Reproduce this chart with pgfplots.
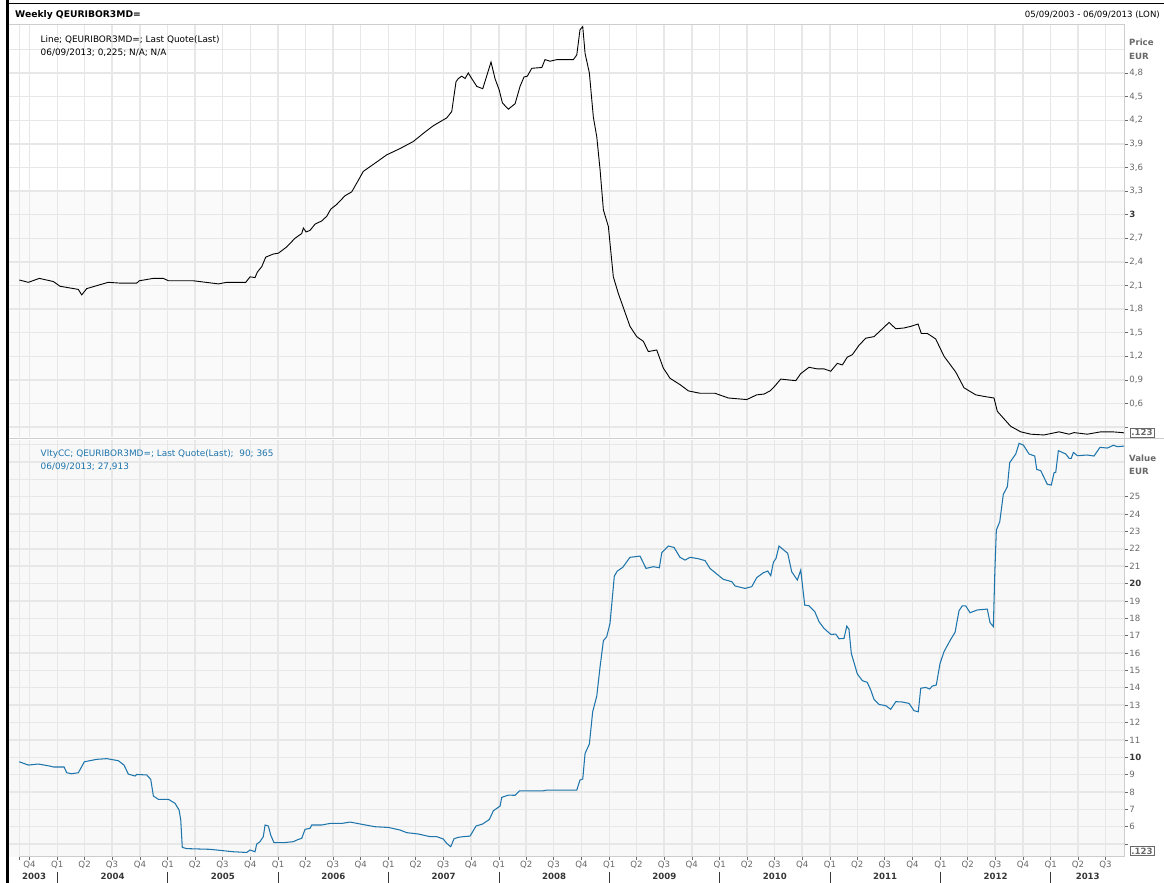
\documentclass[border=0pt]{standalone}
\usepackage{pgfplots}
\pgfplotsset{compat=1.18}
\usepackage{fontspec}
\setmainfont{DejaVu Sans}
\definecolor{vblue}{RGB}{30,117,172}
\definecolor{gridc}{RGB}{231,231,231}
\definecolor{bgA}{RGB}{250,250,250}
\definecolor{bgB}{RGB}{248,248,248}
\definecolor{tickc}{RGB}{105,105,105}
\definecolor{tickb}{RGB}{55,55,55}
\definecolor{axc}{RGB}{205,205,205}
\newcommand{\fs}{\fontsize{8.6}{10}\selectfont}
\newcommand{\fl}{\fontsize{8.9}{10}\selectfont}
\newcommand{\ft}{\fontsize{9.2}{10}\selectfont}

\pgfplotstableread{
t v
2003.655 2.17
2003.737 2.14
2003.837 2.19
2003.964 2.15
2004.024 2.09
2004.190 2.05
2004.221 1.98
2004.266 2.06
2004.387 2.11
2004.462 2.14
2004.568 2.13
2004.719 2.13
2004.743 2.16
2004.870 2.19
2004.960 2.19
2005.006 2.16
2005.232 2.16
2005.459 2.12
2005.535 2.14
2005.707 2.14
2005.746 2.21
2005.791 2.20
2005.812 2.27
2005.852 2.34
2005.888 2.46
2005.957 2.50
2006.002 2.51
2006.078 2.59
2006.153 2.70
2006.214 2.76
2006.229 2.83
2006.253 2.78
2006.289 2.80
2006.335 2.88
2006.395 2.92
2006.441 2.98
2006.477 3.07
2006.531 3.13
2006.606 3.24
2006.667 3.29
2006.712 3.40
2006.772 3.55
2006.833 3.61
2006.894 3.67
2006.984 3.76
2007.105 3.84
2007.225 3.93
2007.331 4.05
2007.406 4.13
2007.528 4.23
2007.573 4.31
2007.612 4.69
2007.633 4.73
2007.664 4.76
2007.694 4.73
2007.723 4.80
2007.754 4.73
2007.800 4.63
2007.854 4.60
2007.929 4.94
2007.965 4.73
2008.004 4.58
2008.032 4.42
2008.086 4.34
2008.147 4.41
2008.192 4.63
2008.228 4.75
2008.258 4.76
2008.298 4.86
2008.389 4.87
2008.418 4.97
2008.464 4.95
2008.524 4.97
2008.675 4.97
2008.706 5.03
2008.735 5.35
2008.760 5.39
2008.781 5.05
2008.820 4.80
2008.856 4.24
2008.887 3.99
2008.917 3.57
2008.947 3.06
2008.992 2.85
2009.037 2.21
2009.082 2.00
2009.188 1.58
2009.249 1.45
2009.309 1.39
2009.354 1.26
2009.430 1.28
2009.490 1.05
2009.551 0.92
2009.641 0.84
2009.717 0.76
2009.823 0.73
2009.958 0.73
2010.079 0.67
2010.246 0.65
2010.336 0.71
2010.402 0.72
2010.457 0.76
2010.493 0.81
2010.554 0.91
2010.690 0.89
2010.735 0.98
2010.810 1.06
2010.885 1.04
2010.946 1.04
2011.007 1.01
2011.066 1.11
2011.112 1.09
2011.157 1.19
2011.202 1.22
2011.263 1.34
2011.324 1.43
2011.399 1.45
2011.460 1.53
2011.535 1.63
2011.596 1.55
2011.671 1.56
2011.731 1.58
2011.798 1.61
2011.827 1.49
2011.882 1.49
2011.958 1.42
2012.033 1.20
2012.139 1.00
2012.214 0.80
2012.320 0.71
2012.396 0.69
2012.486 0.67
2012.516 0.50
2012.637 0.31
2012.728 0.24
2012.819 0.21
2012.939 0.20
2013.075 0.24
2013.166 0.21
2013.211 0.23
2013.331 0.21
2013.453 0.24
2013.558 0.24
2013.648 0.23
2013.668 0.225
}\euribor

\pgfplotstableread{
t v
2003.655 9.74
2003.737 9.55
2003.828 9.61
2003.934 9.49
2003.964 9.44
2004.061 9.44
2004.085 9.11
2004.130 9.05
2004.190 9.11
2004.245 9.74
2004.357 9.88
2004.448 9.92
2004.553 9.80
2004.604 9.55
2004.643 9.03
2004.704 8.92
2004.719 9.01
2004.810 8.98
2004.846 8.73
2004.870 7.77
2004.915 7.58
2005.006 7.58
2005.066 7.35
2005.103 6.96
2005.118 6.39
2005.132 4.81
2005.172 4.74
2005.383 4.70
2005.594 4.56
2005.716 4.52
2005.746 4.66
2005.791 4.56
2005.806 5.00
2005.836 5.14
2005.866 5.43
2005.882 6.10
2005.912 6.04
2005.933 5.52
2005.963 5.08
2006.047 5.08
2006.138 5.14
2006.183 5.27
2006.214 5.33
2006.244 5.85
2006.289 5.91
2006.305 6.10
2006.395 6.10
2006.471 6.19
2006.577 6.19
2006.652 6.27
2006.742 6.16
2006.878 6.00
2006.999 5.96
2007.105 5.81
2007.165 5.66
2007.271 5.58
2007.376 5.43
2007.437 5.43
2007.497 5.29
2007.528 5.04
2007.564 4.85
2007.594 5.31
2007.633 5.39
2007.678 5.43
2007.739 5.46
2007.793 6.04
2007.854 6.16
2007.914 6.42
2007.950 6.92
2008.011 7.19
2008.026 7.69
2008.086 7.82
2008.147 7.81
2008.186 8.06
2008.403 8.07
2008.434 8.11
2008.706 8.11
2008.735 8.69
2008.760 8.75
2008.781 10.22
2008.820 10.76
2008.850 12.62
2008.887 13.52
2008.917 15.21
2008.947 16.71
2008.977 16.94
2009.007 17.71
2009.046 20.43
2009.073 20.72
2009.122 20.93
2009.188 21.51
2009.279 21.58
2009.333 20.87
2009.400 20.97
2009.454 20.91
2009.476 21.78
2009.535 22.16
2009.587 22.08
2009.641 21.51
2009.687 21.35
2009.732 21.51
2009.807 21.43
2009.868 21.32
2009.913 20.87
2009.974 20.55
2010.034 20.24
2010.110 20.11
2010.140 19.86
2010.230 19.72
2010.291 19.82
2010.336 20.34
2010.396 20.62
2010.436 20.72
2010.463 20.45
2010.487 21.22
2010.511 21.45
2010.538 22.16
2010.617 21.74
2010.653 20.68
2010.704 20.20
2010.735 20.78
2010.771 18.76
2010.810 18.72
2010.862 18.38
2010.901 17.80
2010.946 17.42
2011.007 17.07
2011.052 17.09
2011.082 16.82
2011.127 16.84
2011.152 17.55
2011.172 17.36
2011.193 15.98
2011.248 14.79
2011.293 14.41
2011.338 14.31
2011.369 13.87
2011.399 13.33
2011.444 13.04
2011.505 12.97
2011.550 12.76
2011.596 13.20
2011.655 13.18
2011.716 13.10
2011.761 12.68
2011.800 12.62
2011.822 13.97
2011.867 14.02
2011.903 13.93
2011.927 14.10
2011.963 14.16
2011.997 15.40
2012.033 16.08
2012.094 16.79
2012.133 17.19
2012.169 18.44
2012.199 18.72
2012.230 18.71
2012.269 18.32
2012.335 18.48
2012.425 18.53
2012.450 17.75
2012.480 17.52
2012.493 20.59
2012.507 23.08
2012.538 23.56
2012.570 25.13
2012.607 25.58
2012.628 26.96
2012.683 27.46
2012.713 28.07
2012.752 27.97
2012.803 27.46
2012.855 27.34
2012.873 26.57
2012.909 26.50
2012.969 25.71
2013.005 25.67
2013.030 26.38
2013.045 26.40
2013.069 27.65
2013.136 27.46
2013.166 27.21
2013.186 27.21
2013.205 27.55
2013.241 27.36
2013.331 27.40
2013.392 27.34
2013.446 27.84
2013.513 27.80
2013.567 27.96
2013.603 27.88
2013.664 27.913
}\vlty

\pgfplotsset{
  panel/.style={
    scale only axis, width=1115.7pt, xmin=2003.562, xmax=2013.670,
    anchor=south west,
    axis line style={draw=none},
    grid=major, major grid style={gridc, line width=1.4pt},
    tick align=outside, ytick pos=right, yticklabel pos=right,
    major tick length=3.5pt,
    tick style={tickc, line width=0.6pt},
    tick label style={font=\fs, text=tickc},
    yticklabel style={anchor=west, inner sep=1pt},
    clip mode=individual,
    xtick={2003.655,2003.748,
      2004,2004.247,2004.496,2004.748,
      2005,2005.247,2005.496,2005.748,
      2006,2006.247,2006.496,2006.748,
      2007,2007.247,2007.496,2007.748,
      2008,2008.247,2008.496,2008.748,
      2009,2009.247,2009.496,2009.748,
      2010,2010.247,2010.496,2010.748,
      2011,2011.247,2011.496,2011.748,
      2012,2012.247,2012.496,2012.748,
      2013,2013.247,2013.496},
  }
}

\begin{document}
\begin{tikzpicture}
\fill[white] (0pt,0pt) rectangle (1164pt,883pt);
% panel backgrounds
\fill[white] (9pt,445.5pt) rectangle (1124.7pt,859pt);
\fill[bgA] (9pt,445.5pt) rectangle (1124.7pt,693pt);
\fill[bgB] (9pt,26.3pt) rectangle (1124.7pt,443pt);

% top panel
\begin{axis}[panel, at={(9pt,445.5pt)}, height=413.5pt,
  ymin=0.168, ymax=5.423,
  xticklabels={}, xtick style={draw=none},
  ytick={0.3,0.6,0.9,1.2,1.5,1.8,2.1,2.4,2.7,3.0,3.3,3.6,3.9,4.2,4.5,4.8},
  yticklabels={{},{0,6},{0,9},{1,2},{1,5},{1,8},{2,1},{2,4},{2,7},{\textcolor{tickb}{\bfseries 3}},{3,3},{3,6},{3,9},{4,2},{4,5},{4,8}},
  extra y ticks={5.1}, extra y tick labels={}, extra y tick style={tick style={draw=none}},
]
\addplot[black, line width=0.9pt] table[x=t,y=v] {\euribor};
\end{axis}

% bottom panel
\begin{axis}[panel, at={(9pt,26.3pt)}, height=416.7pt,
  ymin=4.275, ymax=28.264,
  xtick pos=bottom,
  xticklabels={{},Q4,Q1,Q2,Q3,Q4,Q1,Q2,Q3,Q4,Q1,Q2,Q3,Q4,Q1,Q2,Q3,Q4,Q1,Q2,Q3,Q4,Q1,Q2,Q3,Q4,Q1,Q2,Q3,Q4,Q1,Q2,Q3,Q4,Q1,Q2,Q3,Q4,Q1,Q2,Q3},
  xticklabel style={anchor=north, inner sep=0.5pt},
  extra x ticks={2003.79,2004.5,2005.5,2006.5,2007.5,2008.5,2009.5,2010.5,2011.5,2012.5,2013.335},
  extra x tick labels={2003,2004,2005,2006,2007,2008,2009,2010,2011,2012,2013},
  extra x tick style={grid=none, tick style={draw=none},
    xticklabel style={yshift=-12pt, font=\fs\bfseries, text=tickb}},
  ytick={5,6,...,25},
  yticklabels={{},6,7,8,9,{\textcolor{tickb}{\bfseries 10}},11,12,13,14,15,16,17,18,19,{\textcolor{tickb}{\bfseries 20}},21,22,23,24,25},
  extra y ticks={26,27,28}, extra y tick labels={}, extra y tick style={tick style={draw=none}},
]
\addplot[vblue, line width=1.05pt] table[x=t,y=v] {\vlty};
\pgfplotsinvokeforeach{2004,2005,2006,2007,2008,2009,2010,2011,2012,2013}{
  \draw[tickb, line width=0.7pt] ([yshift=-15pt]axis cs:#1,4.275) -- ([yshift=-26.3pt]axis cs:#1,4.275);
}
\end{axis}

% borders
\draw[axc, line width=0.8pt] (19.5pt,26.3pt) -- (1124.7pt,26.3pt);
\draw[axc, line width=0.8pt] (1124.7pt,26.3pt) -- (1124.7pt,859pt);
\draw[axc, line width=0.8pt] (9pt,859pt) -- (1124.7pt,859pt);
\draw[axc, line width=0.8pt] (9pt,444.3pt) -- (1164pt,444.3pt);
\draw[black, line width=2.5pt] (7.5pt,0pt) -- (7.5pt,883pt);
\draw[black, line width=1.5pt] (7.5pt,879.5pt) -- (1164pt,879.5pt);

% header
\node[anchor=west, font=\ft\bfseries, inner sep=0] at (15pt,868pt) {Weekly QEURIBOR3MD=};
\node[anchor=east, font=\fs, inner sep=0] at (1160pt,868pt) {05/09/2003 - 06/09/2013 (LON)};

% series labels
\node[anchor=west, font=\fl, inner sep=0] at (40.5pt,843.7pt) {Line; QEURIBOR3MD=; Last Quote(Last)};
\node[anchor=west, font=\fl, inner sep=0] at (40.5pt,830.7pt) {06/09/2013; 0,225; N/A; N/A};
\node[anchor=west, font=\fl, inner sep=0, text=vblue] at (40.5pt,428.7pt) {VltyCC; QEURIBOR3MD=; Last Quote(Last);\ \ 90; 365};
\node[anchor=west, font=\fl, inner sep=0, text=vblue] at (40.5pt,416.3pt) {06/09/2013; 27,913};

% axis titles
\node[anchor=west, font=\fs\bfseries, text=tickc, inner sep=0] at (1129pt,840.3pt) {Price};
\node[anchor=west, font=\fs\bfseries, text=tickc, inner sep=0] at (1129pt,827pt) {EUR};
\node[anchor=west, font=\fs\bfseries, text=tickc, inner sep=0] at (1129pt,424.7pt) {Value};
\node[anchor=west, font=\fs\bfseries, text=tickc, inner sep=0] at (1129pt,411.3pt) {EUR};

% value boxes
\node[draw=tickc, line width=0.6pt, inner sep=1.2pt, font=\fs\bfseries, text=tickc, fill=white] at (1142pt,450.5pt) {.123};
\node[draw=tickc, line width=0.6pt, inner sep=1.2pt, font=\fs\bfseries, text=tickc, fill=white] at (1142pt,32pt) {.123};

\pgfresetboundingbox
\path[use as bounding box] (0pt,0pt) rectangle (1164pt,883pt);
\end{tikzpicture}
\end{document}
